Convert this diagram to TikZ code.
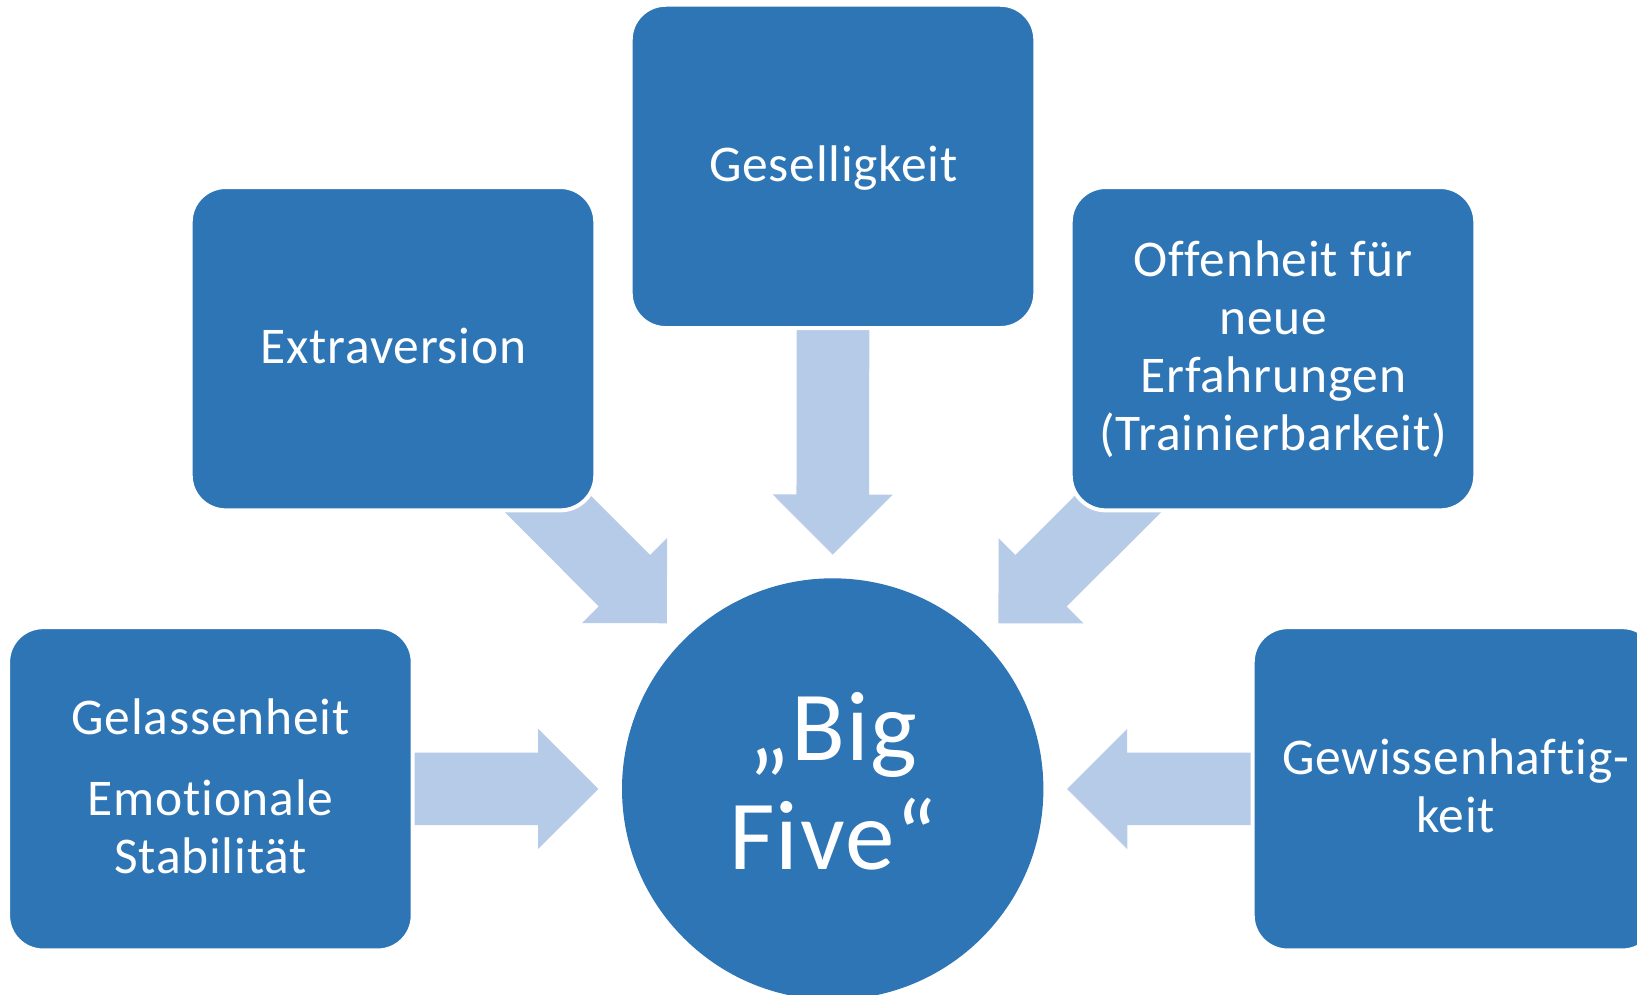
\documentclass[tikz,border=0pt]{standalone}
\usepackage{fontspec}
\setmainfont{Carlito}[Ligatures=NoCommon, LetterSpace=1.5]
\usetikzlibrary{calc,backgrounds}
\definecolor{boxblue}{HTML}{2E75B6}
\definecolor{arrowblue}{HTML}{B6CBE7}
\newcommand\blockarrow[2]{%
  \coordinate (ba-base) at ($(#2)!60.15pt!(#1)$);
  \fill[arrowfill] ($(#1)!36.3pt!90:(#2)$) -- ($(ba-base)!36.3pt!-90:(#1)$)
    -- ($(ba-base)!60.15pt!-90:(#1)$) -- (#2) -- ($(ba-base)!60.15pt!90:(#1)$)
    -- ($(ba-base)!36.3pt!90:(#1)$) -- ($(#1)!36.3pt!-90:(#2)$) -- cycle;}
\tikzset{
  boxnode/.style={rectangle, rounded corners=35pt, minimum width=404.6pt,
    minimum height=323.3pt, fill=boxblue, draw=white, line width=4pt, inner sep=0pt},
  circnode/.style={circle, minimum size=421.4pt, inner sep=0pt, fill=boxblue},
  txt/.style={text=white, inner sep=0pt, anchor=base, font=\fontsize{51.5pt}{58.2pt}\selectfont},
  bigtxt/.style={txt, font=\fontsize{99pt}{109.3pt}\selectfont},
  arrowfill/.style={fill=arrowblue}
}
\begin{document}
\begin{tikzpicture}[x=1pt,y=-1pt]
\useasboundingbox (0,0) rectangle (1637,995);
\clip (0,0) rectangle (1637,995);

% boxes
\node[boxnode] (ges) at (833,166.4) {};
\node[boxnode] (ext) at (393,348.7) {};
\node[boxnode] (off) at (1273,348.7) {};
\node[boxnode] (gel) at (210.4,788.8) {};
\node[boxnode] (gew) at (1455,788.8) {};
\node[circnode] (big) at (832.7,789) {};

% texts
\node[txt] (ges-t) at (833.3,181.7) {Geselligkeit};
\node[txt] (ext-t) at (393.5,363.3) {Extraversion};
\node[txt] (off-t) at (1273.3,276) {\begin{tabular}[t]{@{}c@{}}Offenheit für\\neue\\Erfahrungen\\(Trainierbarkeit)\end{tabular}};
\node[txt] (gel-t) at (210.6,734) {\begin{tabular}[t]{@{}c@{}}Gelassenheit\\[22.8pt]Emotionale\\Stabilität\end{tabular}};
\node[txt] (gew-t) at (1455.6,774) {\begin{tabular}[t]{@{}c@{}}Gewissenhaftig-\\keit\end{tabular}};
\node[bigtxt] (big-t) at (833,760) {\begin{tabular}[t]{@{}c@{}}„Big\\Five“\end{tabular}};

% arrows (behind the boxes)
\begin{pgfonlayer}{background}
\coordinate (dn-tail) at ($(ges.south)+(0,-10)$);
\coordinate (dn-tip) at ($(big.center)+(0,-234.4)$);
\coordinate (lf-tail) at ($(gel.east)+(-10,0)$);
\coordinate (lf-tip) at ($(big.center)+(-234.4,0)$);
\coordinate (rt-tail) at ($(gew.west)+(10,0)$);
\coordinate (rt-tip) at ($(big.center)+(234.4,0)$);
\coordinate (ul-tail) at ($(ext.south east)+(-80.5,-39.5)$);
\coordinate (ul-tip) at ($(big.center)+(-165.75,-165.75)$);
\coordinate (ur-tail) at ($(off.south west)+(80.5,-39.5)$);
\coordinate (ur-tip) at ($(big.center)+(165.75,-165.75)$);
\blockarrow{dn-tail}{dn-tip}
\blockarrow{lf-tail}{lf-tip}
\blockarrow{rt-tail}{rt-tip}
\blockarrow{ul-tail}{ul-tip}
\blockarrow{ur-tail}{ur-tip}
\end{pgfonlayer}
\end{tikzpicture}
\end{document}
